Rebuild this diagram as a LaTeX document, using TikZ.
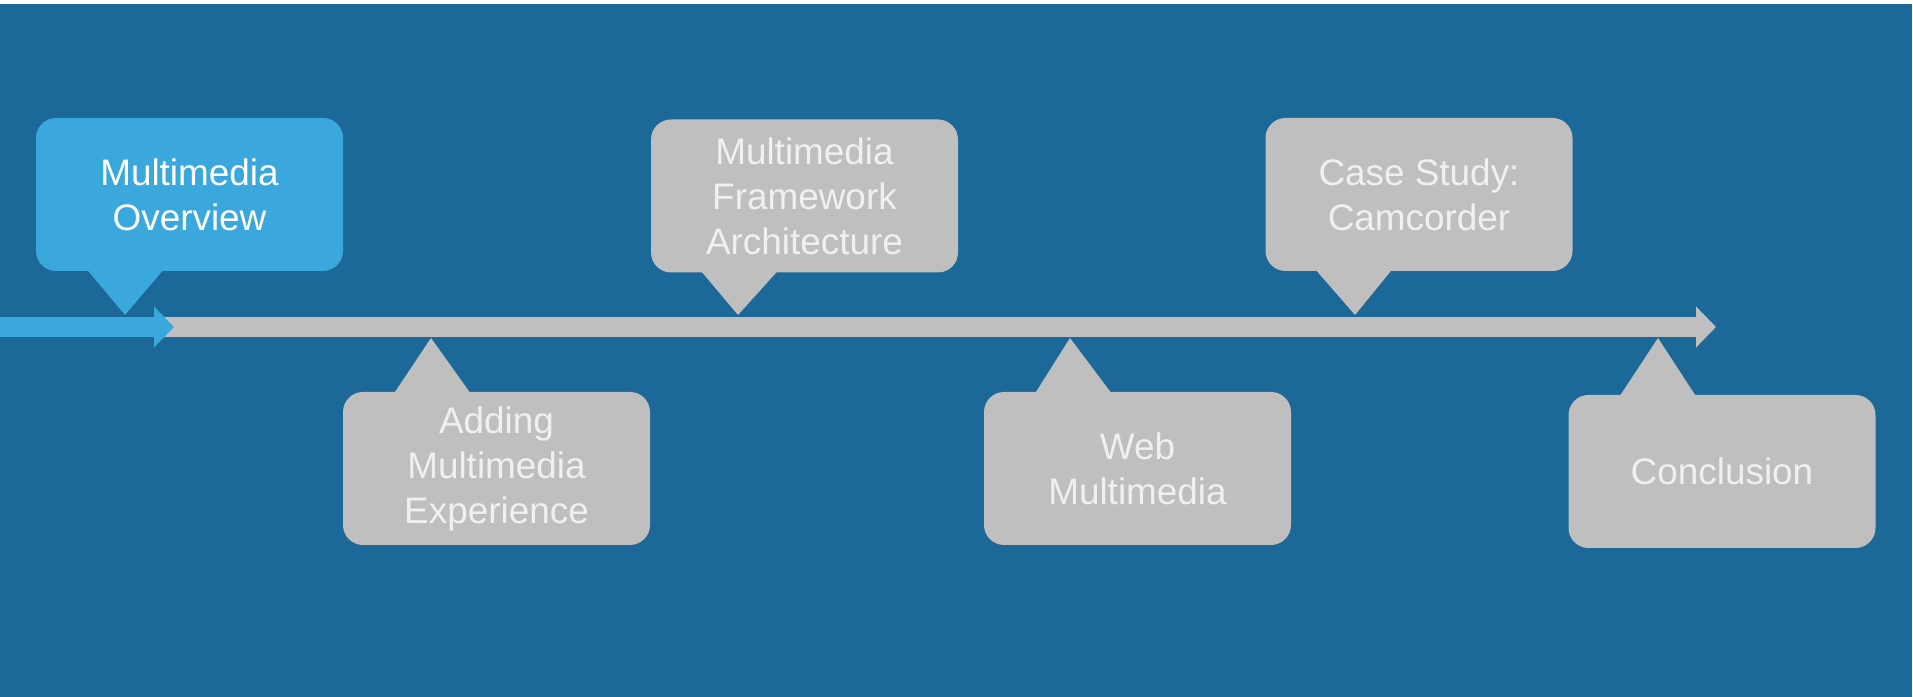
\documentclass[tikz,border=0pt]{standalone}
\usepackage{fontspec}
\setmainfont{Liberation Sans}
\usetikzlibrary{arrows.meta}
\definecolor{slideblue}{HTML}{1C6899}
\definecolor{nowblue}{HTML}{3AA8DC}
\definecolor{pastgray}{HTML}{BFBFBF}
\definecolor{labelgray}{HTML}{F0F0F0}

\begin{document}
\begin{tikzpicture}[
    topic/.style={fill=pastgray, text=labelgray, rounded corners=2mm,
      minimum width=3.07cm, minimum height=1.53cm, inner sep=0pt,
      align=center, font=\fontsize{10.5}{12.8}\selectfont},
    current/.style={topic, fill=nowblue, text=white},
    bar/.style={line width=2mm, -{Triangle[length=2mm,width=4mm]}}]
  \useasboundingbox (0,0) rectangle (19.13,6.97);
  \fill[slideblue] (0,0) rectangle (19.12,6.93);
  % timeline
  \coordinate (start) at (0,3.70);
  \coordinate (now) at (1.74,3.70);
  \coordinate (stop) at (17.16,3.70);
  \draw[bar, pastgray] (start) -- (stop);
  \draw[bar, nowblue] (start) -- (now);
  % topics
  \node[current] (overview) at (1.895,5.025) {Multimedia\\Overview};
  \node[topic] (adding) at (4.965,2.285) {Adding\\Multimedia\\Experience};
  \node[topic] (framework) at (8.045,5.01) {Multimedia\\Framework\\Architecture};
  \node[topic] (web) at (11.375,2.285) {Web\\Multimedia};
  \node[topic] (casestudy) at (14.19,5.025) {Case Study:\\Camcorder};
  \node[topic] (conclusion) at (17.22,2.255) {Conclusion};
  % pointers onto the timeline
  \coordinate (overviewtip) at (1.25,3.82);
  \coordinate (addingtip) at (4.31,3.59);
  \coordinate (frameworktip) at (7.38,3.82);
  \coordinate (webtip) at (10.70,3.59);
  \coordinate (casestudytip) at (13.55,3.82);
  \coordinate (conclusiontip) at (16.58,3.59);
  \fill[nowblue] ([xshift=5.2mm,yshift=.5pt]overview.south west) -- (overviewtip)
    -- ([xshift=12.8mm,yshift=.5pt]overview.south west) -- cycle;
  \fill[pastgray] ([xshift=5.2mm,yshift=-.5pt]adding.north west) -- (addingtip)
    -- ([xshift=12.8mm,yshift=-.5pt]adding.north west) -- cycle;
  \fill[pastgray] ([xshift=5.1mm,yshift=.5pt]framework.south west) -- (frameworktip)
    -- ([xshift=12.7mm,yshift=.5pt]framework.south west) -- cycle;
  \fill[pastgray] ([xshift=5.2mm,yshift=-.5pt]web.north west) -- (webtip)
    -- ([xshift=12.8mm,yshift=-.5pt]web.north west) -- cycle;
  \fill[pastgray] ([xshift=5.1mm,yshift=.5pt]casestudy.south west) -- (casestudytip)
    -- ([xshift=12.7mm,yshift=.5pt]casestudy.south west) -- cycle;
  \fill[pastgray] ([xshift=5.2mm,yshift=-.5pt]conclusion.north west) -- (conclusiontip)
    -- ([xshift=12.8mm,yshift=-.5pt]conclusion.north west) -- cycle;
\end{tikzpicture}
\end{document}
